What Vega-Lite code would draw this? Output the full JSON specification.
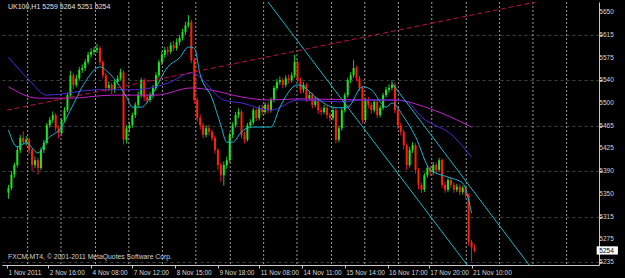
{
 "$schema": "https://vega.github.io/schema/vega-lite/v6.json",
 "width": 597, "height": 263, "autosize": "none",
 "padding": {"left": 2, "top": 2, "right": 26, "bottom": 13},
 "background": "#000000",
 "config": {"view": {"stroke": null}},
 "datasets": {
  "candles": [
{"t":0,"o":5350,"h":5363,"l":5340,"c":5358},{"t":1,"o":5358,"h":5386,"l":5354,"c":5380},{"t":2,"o":5380,"h":5400,"l":5375,"c":5396},{"t":3,"o":5396,"h":5428,"l":5392,"c":5421},{"t":4,"o":5421,"h":5446,"l":5416,"c":5441},{"t":5,"o":5441,"h":5452,"l":5430,"c":5434},{"t":6,"o":5434,"h":5444,"l":5428,"c":5438},{"t":7,"o":5438,"h":5441,"l":5414,"c":5421},{"t":8,"o":5421,"h":5424,"l":5385,"c":5396},{"t":9,"o":5396,"h":5410,"l":5391,"c":5404},
{"t":10,"o":5404,"h":5408,"l":5380,"c":5391},{"t":11,"o":5391,"h":5425,"l":5388,"c":5421},{"t":12,"o":5421,"h":5438,"l":5416,"c":5433},{"t":13,"o":5433,"h":5466,"l":5430,"c":5462},{"t":14,"o":5462,"h":5476,"l":5458,"c":5471},{"t":15,"o":5471,"h":5485,"l":5466,"c":5479},{"t":16,"o":5479,"h":5482,"l":5452,"c":5457},{"t":17,"o":5457,"h":5462,"l":5440,"c":5449},{"t":18,"o":5449,"h":5474,"l":5445,"c":5471},{"t":19,"o":5471,"h":5492,"l":5468,"c":5487},
{"t":20,"o":5487,"h":5516,"l":5484,"c":5512},{"t":21,"o":5512,"h":5552,"l":5508,"c":5545},{"t":22,"o":5545,"h":5549,"l":5522,"c":5529},{"t":23,"o":5529,"h":5546,"l":5525,"c":5540},{"t":24,"o":5540,"h":5559,"l":5536,"c":5554},{"t":25,"o":5554,"h":5563,"l":5549,"c":5557},{"t":26,"o":5557,"h":5572,"l":5552,"c":5567},{"t":27,"o":5567,"h":5584,"l":5563,"c":5579},{"t":28,"o":5579,"h":5590,"l":5574,"c":5584},{"t":29,"o":5584,"h":5592,"l":5579,"c":5587},
{"t":30,"o":5587,"h":5597,"l":5582,"c":5590},{"t":31,"o":5590,"h":5594,"l":5562,"c":5567},{"t":32,"o":5567,"h":5570,"l":5540,"c":5545},{"t":33,"o":5545,"h":5549,"l":5517,"c":5524},{"t":34,"o":5524,"h":5535,"l":5519,"c":5529},{"t":35,"o":5529,"h":5533,"l":5514,"c":5521},{"t":36,"o":5521,"h":5538,"l":5516,"c":5534},{"t":37,"o":5534,"h":5545,"l":5530,"c":5540},{"t":38,"o":5540,"h":5556,"l":5536,"c":5550},{"t":39,"o":5550,"h":5553,"l":5430,"c":5438},
{"t":40,"o":5438,"h":5462,"l":5432,"c":5457},{"t":41,"o":5457,"h":5468,"l":5450,"c":5462},{"t":42,"o":5462,"h":5483,"l":5458,"c":5479},{"t":43,"o":5479,"h":5500,"l":5474,"c":5496},{"t":44,"o":5496,"h":5518,"l":5492,"c":5512},{"t":45,"o":5512,"h":5541,"l":5508,"c":5537},{"t":46,"o":5537,"h":5540,"l":5502,"c":5509},{"t":47,"o":5509,"h":5514,"l":5498,"c":5504},{"t":48,"o":5504,"h":5517,"l":5500,"c":5512},{"t":49,"o":5512,"h":5529,"l":5507,"c":5524},
{"t":50,"o":5524,"h":5550,"l":5520,"c":5545},{"t":51,"o":5545,"h":5571,"l":5541,"c":5567},{"t":52,"o":5567,"h":5585,"l":5562,"c":5579},{"t":53,"o":5579,"h":5592,"l":5574,"c":5587},{"t":54,"o":5587,"h":5593,"l":5578,"c":5584},{"t":55,"o":5584,"h":5600,"l":5580,"c":5595},{"t":56,"o":5595,"h":5602,"l":5585,"c":5590},{"t":57,"o":5590,"h":5606,"l":5586,"c":5600},{"t":58,"o":5600,"h":5612,"l":5595,"c":5607},{"t":59,"o":5607,"h":5622,"l":5603,"c":5617},
{"t":60,"o":5617,"h":5634,"l":5612,"c":5628},{"t":61,"o":5628,"h":5645,"l":5624,"c":5633},{"t":62,"o":5633,"h":5637,"l":5565,"c":5570},{"t":63,"o":5570,"h":5574,"l":5498,"c":5504},{"t":64,"o":5504,"h":5508,"l":5468,"c":5474},{"t":65,"o":5474,"h":5480,"l":5455,"c":5462},{"t":66,"o":5462,"h":5466,"l":5440,"c":5446},{"t":67,"o":5446,"h":5462,"l":5442,"c":5457},{"t":68,"o":5457,"h":5463,"l":5445,"c":5451},{"t":69,"o":5451,"h":5455,"l":5436,"c":5441},
{"t":70,"o":5441,"h":5445,"l":5415,"c":5421},{"t":71,"o":5421,"h":5424,"l":5388,"c":5396},{"t":72,"o":5396,"h":5400,"l":5368,"c":5379},{"t":73,"o":5379,"h":5402,"l":5362,"c":5396},{"t":74,"o":5396,"h":5410,"l":5390,"c":5404},{"t":75,"o":5404,"h":5450,"l":5400,"c":5446},{"t":76,"o":5446,"h":5467,"l":5441,"c":5462},{"t":77,"o":5462,"h":5484,"l":5458,"c":5479},{"t":78,"o":5479,"h":5490,"l":5474,"c":5484},{"t":79,"o":5484,"h":5487,"l":5440,"c":5446},
{"t":80,"o":5446,"h":5452,"l":5432,"c":5438},{"t":81,"o":5438,"h":5466,"l":5435,"c":5462},{"t":82,"o":5462,"h":5472,"l":5457,"c":5467},{"t":83,"o":5467,"h":5491,"l":5463,"c":5487},{"t":84,"o":5487,"h":5490,"l":5469,"c":5474},{"t":85,"o":5474,"h":5495,"l":5470,"c":5491},{"t":86,"o":5491,"h":5496,"l":5479,"c":5484},{"t":87,"o":5484,"h":5500,"l":5480,"c":5496},{"t":88,"o":5496,"h":5501,"l":5482,"c":5487},{"t":89,"o":5487,"h":5508,"l":5483,"c":5504},
{"t":90,"o":5504,"h":5528,"l":5500,"c":5524},{"t":91,"o":5524,"h":5539,"l":5520,"c":5534},{"t":92,"o":5534,"h":5543,"l":5529,"c":5537},{"t":93,"o":5537,"h":5541,"l":5524,"c":5529},{"t":94,"o":5529,"h":5545,"l":5525,"c":5540},{"t":95,"o":5540,"h":5546,"l":5531,"c":5537},{"t":96,"o":5537,"h":5550,"l":5533,"c":5545},{"t":97,"o":5545,"h":5579,"l":5541,"c":5567},{"t":98,"o":5567,"h":5571,"l":5532,"c":5537},{"t":99,"o":5537,"h":5541,"l":5515,"c":5521},
{"t":100,"o":5521,"h":5534,"l":5516,"c":5529},{"t":101,"o":5529,"h":5532,"l":5501,"c":5507},{"t":102,"o":5507,"h":5518,"l":5503,"c":5512},{"t":103,"o":5512,"h":5516,"l":5490,"c":5496},{"t":104,"o":5496,"h":5509,"l":5492,"c":5504},{"t":105,"o":5504,"h":5507,"l":5481,"c":5487},{"t":106,"o":5487,"h":5492,"l":5478,"c":5484},{"t":107,"o":5484,"h":5496,"l":5480,"c":5491},{"t":108,"o":5491,"h":5494,"l":5473,"c":5479},{"t":109,"o":5479,"h":5483,"l":5468,"c":5474},
{"t":110,"o":5474,"h":5491,"l":5470,"c":5487},{"t":111,"o":5487,"h":5490,"l":5432,"c":5438},{"t":112,"o":5438,"h":5461,"l":5434,"c":5457},{"t":113,"o":5457,"h":5491,"l":5453,"c":5487},{"t":114,"o":5487,"h":5516,"l":5483,"c":5512},{"t":115,"o":5512,"h":5541,"l":5508,"c":5537},{"t":116,"o":5537,"h":5550,"l":5532,"c":5545},{"t":117,"o":5545,"h":5570,"l":5541,"c":5557},{"t":118,"o":5557,"h":5561,"l":5535,"c":5540},{"t":119,"o":5540,"h":5544,"l":5519,"c":5524},
{"t":120,"o":5524,"h":5527,"l":5465,"c":5471},{"t":121,"o":5471,"h":5508,"l":5467,"c":5504},{"t":122,"o":5504,"h":5509,"l":5490,"c":5496},{"t":123,"o":5496,"h":5500,"l":5481,"c":5487},{"t":124,"o":5487,"h":5505,"l":5483,"c":5501},{"t":125,"o":5501,"h":5504,"l":5474,"c":5479},{"t":126,"o":5479,"h":5495,"l":5475,"c":5491},{"t":127,"o":5491,"h":5516,"l":5487,"c":5512},{"t":128,"o":5512,"h":5526,"l":5508,"c":5521},{"t":129,"o":5521,"h":5530,"l":5516,"c":5524},
{"t":130,"o":5524,"h":5537,"l":5520,"c":5529},{"t":131,"o":5529,"h":5533,"l":5482,"c":5487},{"t":132,"o":5487,"h":5490,"l":5456,"c":5462},{"t":133,"o":5462,"h":5466,"l":5445,"c":5451},{"t":134,"o":5451,"h":5455,"l":5422,"c":5429},{"t":135,"o":5429,"h":5432,"l":5388,"c":5396},{"t":136,"o":5396,"h":5426,"l":5392,"c":5421},{"t":137,"o":5421,"h":5434,"l":5416,"c":5429},{"t":138,"o":5429,"h":5432,"l":5382,"c":5388},{"t":139,"o":5388,"h":5391,"l":5356,"c":5363},
{"t":140,"o":5363,"h":5367,"l":5350,"c":5355},{"t":141,"o":5355,"h":5383,"l":5351,"c":5379},{"t":142,"o":5379,"h":5396,"l":5375,"c":5391},{"t":143,"o":5391,"h":5395,"l":5378,"c":5384},{"t":144,"o":5384,"h":5401,"l":5380,"c":5396},{"t":145,"o":5396,"h":5400,"l":5383,"c":5388},{"t":146,"o":5388,"h":5408,"l":5384,"c":5404},{"t":147,"o":5404,"h":5407,"l":5358,"c":5363},{"t":148,"o":5363,"h":5368,"l":5350,"c":5355},{"t":149,"o":5355,"h":5375,"l":5351,"c":5371},
{"t":150,"o":5371,"h":5376,"l":5358,"c":5363},{"t":151,"o":5363,"h":5367,"l":5350,"c":5355},{"t":152,"o":5355,"h":5365,"l":5351,"c":5360},{"t":153,"o":5360,"h":5364,"l":5346,"c":5351},{"t":154,"o":5351,"h":5362,"l":5347,"c":5358},{"t":155,"o":5358,"h":5361,"l":5341,"c":5346},{"t":156,"o":5346,"h":5349,"l":5262,"c":5268},{"t":157,"o":5268,"h":5272,"l":5236,"c":5259},{"t":158,"o":5259,"h":5264,"l":5251,"c":5254}
  ],
  "vgrid": [{"t":6.5},{"t":17.8},{"t":29.5},{"t":40.8},{"t":52.2},{"t":63.5},{"t":75.2},{"t":86.5},{"t":97.8},{"t":109.5},{"t":120.8},{"t":132.2},{"t":143.5},{"t":155.2},{"t":166.5},{"t":177.8},{"t":189.2}],
  "ylabels": [{"p":5650,"lab":"5650"},{"p":5612.3,"lab":"5615"},{"p":5574.5,"lab":"5575"},{"p":5536.8,"lab":"5540"},{"p":5499.1,"lab":"5500"},{"p":5461.4,"lab":"5465"},{"p":5423.6,"lab":"5425"},{"p":5385.9,"lab":"5390"},{"p":5348.2,"lab":"5350"},{"p":5310.5,"lab":"5315"},{"p":5272.7,"lab":"5275"},{"p":5235,"lab":"5235"}],
  "maFast": [{"t":0,"v":5454},{"t":3,"v":5426},{"t":6,"v":5433},{"t":10,"v":5416},{"t":13,"v":5438},{"t":18,"v":5459},{"t":21,"v":5487},{"t":26,"v":5534},{"t":31,"v":5559},{"t":34,"v":5549},{"t":40,"v":5509},{"t":42,"v":5492},{"t":45,"v":5492},{"t":49,"v":5516},{"t":54,"v":5559},{"t":58,"v":5574},{"t":61,"v":5592},{"t":63,"v":5590},{"t":65,"v":5546},{"t":69,"v":5507},{"t":72,"v":5462},{"t":74,"v":5434},{"t":76,"v":5434},{"t":79,"v":5451},{"t":82,"v":5459},{"t":89,"v":5459},{"t":92,"v":5492},{"t":98,"v":5529},{"t":100,"v":5526},{"t":104,"v":5509},{"t":110,"v":5492},{"t":112,"v":5491},{"t":115,"v":5492},{"t":120,"v":5526},{"t":123,"v":5521},{"t":128,"v":5492},{"t":130,"v":5499},{"t":134,"v":5476},{"t":138,"v":5443},{"t":143,"v":5388},{"t":149,"v":5376},{"t":154,"v":5366},{"t":157,"v":5316}],
  "maMid": [{"t":0,"v":5575},{"t":7,"v":5537},{"t":13,"v":5512},{"t":30,"v":5521},{"t":43,"v":5521},{"t":54,"v":5532},{"t":62,"v":5549},{"t":73,"v":5504},{"t":79,"v":5499},{"t":89,"v":5487},{"t":98,"v":5504},{"t":113,"v":5501},{"t":120,"v":5504},{"t":131,"v":5504},{"t":135,"v":5501},{"t":140,"v":5476},{"t":151,"v":5443},{"t":157,"v":5409}],
  "maSlow": [{"t":0,"v":5526},{"t":10,"v":5507},{"t":21,"v":5507},{"t":35,"v":5512},{"t":50,"v":5512},{"t":62,"v":5524},{"t":68,"v":5521},{"t":79,"v":5509},{"t":88,"v":5504},{"t":99,"v":5506},{"t":121,"v":5504},{"t":131,"v":5504},{"t":142,"v":5491},{"t":152,"v":5471},{"t":157,"v":5459}],
  "trendRed": [{"t":-0.5,"v":5487},{"t":179,"v":5667}],
  "chanA": [{"t":87.5,"v":5670},{"t":155.5,"v":5230}],
  "chanB": [{"t":130,"v":5532},{"t":176.5,"v":5230}]
 },
 "layer": [
  {"data": {"name": "vgrid"},
   "mark": {"type": "rule", "color": "#9a9a9a", "strokeDash": [2, 2], "strokeWidth": 1},
   "encoding": {"x": {"field": "t", "type": "quantitative",
     "scale": {"domain": [-0.5, 198.5], "nice": false, "zero": false},
     "axis": {"orient": "bottom", "values": [-0.5, 13.5, 28, 42, 56.5, 71, 85, 99.5, 114, 128.5, 142.5, 157],
       "labelExpr": "datum.value < 5 ? '1 Nov 2011' : datum.value < 20 ? '2 Nov 16:00' : datum.value < 35 ? '4 Nov 08:00' : datum.value < 50 ? '7 Nov 12:00' : datum.value < 63 ? '8 Nov 15:00' : datum.value < 78 ? '9 Nov 18:00' : datum.value < 92 ? '11 Nov 08:00' : datum.value < 106 ? '14 Nov 11:00' : datum.value < 121 ? '15 Nov 14:00' : datum.value < 135 ? '16 Nov 17:00' : datum.value < 150 ? '17 Nov 20:00' : '21 Nov 10:00'",
       "labelAlign": "left", "labelBaseline": "top", "labelPadding": 1, "labelOffset": 1,
       "labelColor": "#d8d8d8", "labelFont": "Liberation Sans", "labelFontSize": 6.5,
       "labelOverlap": false, "labelFlush": false, "labelBound": false,
       "tickColor": "#c8c8c8", "tickSize": 3, "domainColor": "#c8c8c8", "grid": false, "title": null}}}},
  {"mark": {"type": "rule", "color": "#4a4a4a"},
   "encoding": {"y": {"datum": 5254}}},
  {"data": {"name": "candles"},
   "mark": {"type": "rule", "strokeWidth": 1},
   "encoding": {
    "x": {"field": "t", "type": "quantitative"},
    "y": {"field": "l", "type": "quantitative",
      "scale": {"domain": [5230, 5666.7], "nice": false, "zero": false},
      "axis": {"orient": "right",
        "values": [5650, 5612.3, 5574.5, 5536.8, 5499.1, 5461.4, 5423.6, 5385.9, 5348.2, 5310.5, 5272.7, 5235],
        "labels": false,
        "tickSize": 3, "tickColor": "#c8c8c8", "domainColor": "#c8c8c8",
        "grid": true, "gridDash": [3, 3], "gridColor": "#34463c",
        "title": null}},
    "y2": {"field": "h"},
    "color": {"condition": {"test": "datum.c >= datum.o", "value": "#22c822"}, "value": "#e01848"}}},
  {"data": {"name": "candles"},
   "mark": {"type": "bar", "width": 2},
   "encoding": {
    "x": {"field": "t", "type": "quantitative"},
    "y": {"field": "o", "type": "quantitative"},
    "y2": {"field": "c"},
    "color": {"condition": {"test": "datum.c >= datum.o", "value": "#1ee61e"}, "value": "#ff2200"}}},
  {"data": {"name": "maSlow"},
   "mark": {"type": "line", "color": "#c020c8", "strokeWidth": 1, "interpolate": "monotone", "clip": true},
   "encoding": {"x": {"field": "t", "type": "quantitative"}, "y": {"field": "v", "type": "quantitative"}}},
  {"data": {"name": "maMid"},
   "mark": {"type": "line", "color": "#5028d8", "strokeWidth": 1, "interpolate": "monotone", "clip": true},
   "encoding": {"x": {"field": "t", "type": "quantitative"}, "y": {"field": "v", "type": "quantitative"}}},
  {"data": {"name": "maFast"},
   "mark": {"type": "line", "color": "#1ab4d2", "strokeWidth": 1, "interpolate": "monotone", "clip": true},
   "encoding": {"x": {"field": "t", "type": "quantitative"}, "y": {"field": "v", "type": "quantitative"}}},
  {"data": {"name": "trendRed"},
   "mark": {"type": "line", "color": "#c01040", "strokeWidth": 1, "strokeDash": [5, 3], "clip": true},
   "encoding": {"x": {"field": "t", "type": "quantitative"}, "y": {"field": "v", "type": "quantitative"}}},
  {"data": {"name": "chanA"},
   "mark": {"type": "line", "color": "#1ab4c8", "strokeWidth": 1, "clip": true},
   "encoding": {"x": {"field": "t", "type": "quantitative"}, "y": {"field": "v", "type": "quantitative"}}},
  {"data": {"name": "chanB"},
   "mark": {"type": "line", "color": "#1ab4c8", "strokeWidth": 1, "clip": true},
   "encoding": {"x": {"field": "t", "type": "quantitative"}, "y": {"field": "v", "type": "quantitative"}}},
  {"mark": {"type": "rule", "color": "#c8c8c8"},
   "encoding": {"x": {"datum": -0.5}}},
  {"data": {"name": "ylabels"},
   "mark": {"type": "text", "align": "left", "baseline": "middle", "font": "Liberation Sans", "fontSize": 6.5, "color": "#d8d8d8", "clip": false},
   "encoding": {"x": {"datum": 200.3}, "y": {"field": "p", "type": "quantitative"}, "text": {"field": "lab"}}},
  {"data": {"values": [{}]},
   "mark": {"type": "rect", "color": "#ffffff", "clip": false},
   "encoding": {"x": {"datum": 199.4}, "x2": {"datum": 206.6}, "y": {"datum": 5247.3}, "y2": {"datum": 5261}}},
  {"data": {"values": [{}]},
   "mark": {"type": "text", "align": "left", "baseline": "middle", "font": "Liberation Sans", "fontSize": 6.5, "color": "#000000", "clip": false},
   "encoding": {"x": {"datum": 200.3}, "y": {"datum": 5254}, "text": {"value": "5254"}}},
  {"data": {"values": [{}]},
   "mark": {"type": "text", "align": "left", "baseline": "middle", "font": "Liberation Sans", "fontSize": 7, "color": "#e0e0e0", "dx": 1},
   "encoding": {"x": {"datum": -0.5}, "y": {"datum": 5658}, "text": {"value": "UK100,H1  5259 5264 5251 5254"}}},
  {"data": {"values": [{}]},
   "mark": {"type": "text", "align": "left", "baseline": "middle", "font": "Liberation Sans", "fontSize": 6.8, "color": "#d0d0d0", "dx": 1},
   "encoding": {"x": {"datum": -0.5}, "y": {"datum": 5243}, "text": {"value": "FXCM-MT4, © 2001-2011 MetaQuotes Software Corp."}}}
 ]
}
